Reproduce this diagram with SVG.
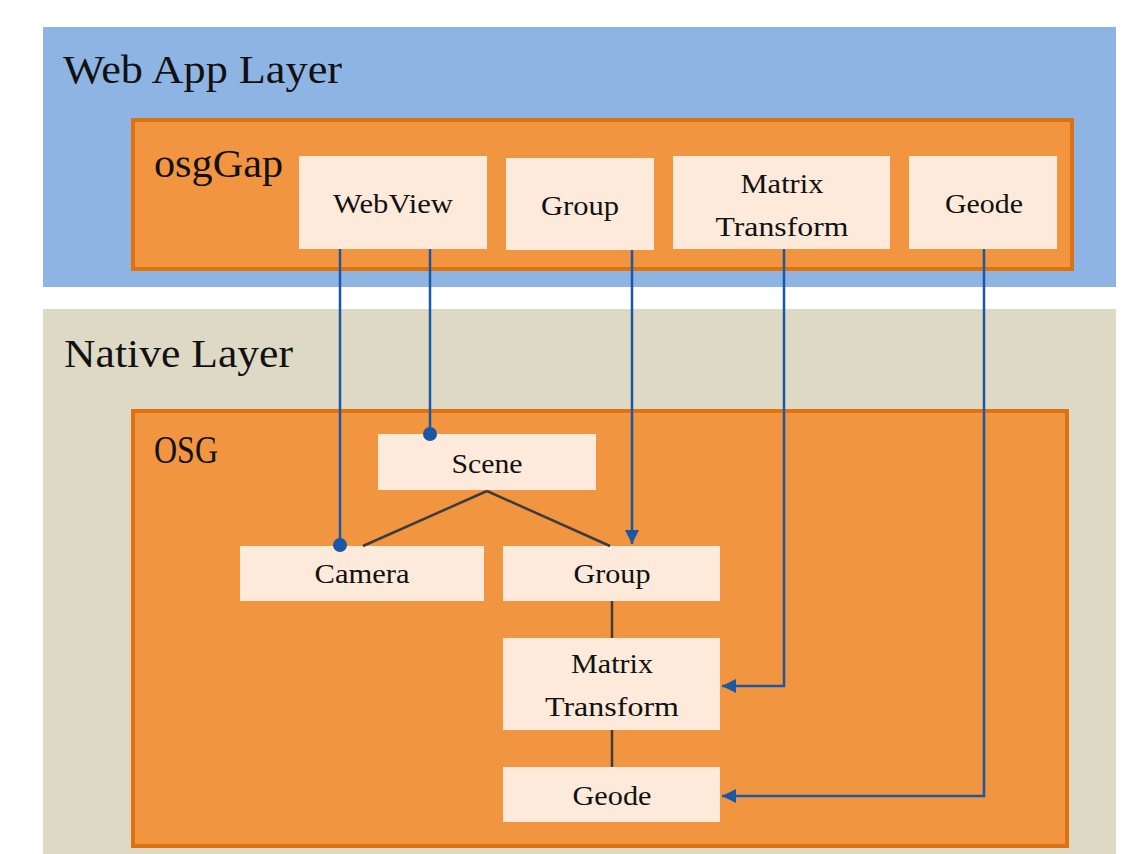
<svg xmlns="http://www.w3.org/2000/svg" width="1132" height="854" viewBox="0 0 1132 854">
<style>
.layer-title{font-family:"Liberation Serif","Times New Roman",serif;font-size:40px;fill:#111}
.frame{fill:#F29540;stroke:#DE7110;stroke-width:4}
.node rect{fill:#FDEADA}
.node text,.lbl{font-family:"Liberation Serif","Times New Roman",serif;font-size:28px;fill:#111;text-anchor:middle}
.blue{fill:none;stroke:#1A58A6;stroke-width:2.5}
.gray{fill:none;stroke:#3C3C3C;stroke-width:2.5}
</style>
<defs>
<marker id="arr" markerUnits="userSpaceOnUse" markerWidth="16" markerHeight="14" refX="14" refY="7" orient="auto">
<path d="M0,0 L14,7 L0,14 Z" fill="#1A58A6"/>
</marker>
</defs>

<g id="web-app-layer">
<rect x="43" y="27" width="1073" height="260" fill="#8EB4E3"/>
<text class="layer-title" x="63" y="83" textLength="279" lengthAdjust="spacingAndGlyphs">Web App Layer</text>
</g>
<g id="native-layer">
<rect x="43" y="309" width="1073" height="545" fill="#DDD9C4"/>
<text class="layer-title" x="64" y="367" textLength="229" lengthAdjust="spacingAndGlyphs">Native Layer</text>
</g>

<g id="osggap">
<rect class="frame" x="133" y="120" width="939" height="149"/>
<text class="layer-title" x="154" y="177" textLength="129" lengthAdjust="spacingAndGlyphs">osgGap</text>
</g>
<g id="osg">
<rect class="frame" x="133" y="411" width="934" height="435"/>
<text class="layer-title" x="154" y="463" textLength="64" lengthAdjust="spacingAndGlyphs">OSG</text>
</g>

<g id="webview" class="node"><rect x="299" y="156" width="188" height="93"/><text x="393" y="213" textLength="120" lengthAdjust="spacingAndGlyphs">WebView</text></g>
<g id="group-web" class="node"><rect x="506" y="158" width="148" height="92"/><text x="580" y="215" textLength="78" lengthAdjust="spacingAndGlyphs">Group</text></g>
<g id="matrix-web" class="node"><rect x="673" y="156" width="217" height="93"/><text x="782" y="193" textLength="83" lengthAdjust="spacingAndGlyphs">Matrix</text><text x="782" y="236" textLength="133" lengthAdjust="spacingAndGlyphs">Transform</text></g>
<g id="geode-web" class="node"><rect x="909" y="156" width="148" height="93"/><text x="984" y="213" textLength="78" lengthAdjust="spacingAndGlyphs">Geode</text></g>

<g id="scene" class="node"><rect x="378" y="434" width="218" height="56"/><text x="487" y="473" textLength="71" lengthAdjust="spacingAndGlyphs">Scene</text></g>
<g id="camera" class="node"><rect x="240" y="546" width="244" height="55"/><text x="362" y="583" textLength="95" lengthAdjust="spacingAndGlyphs">Camera</text></g>
<g id="group-osg" class="node"><rect x="503" y="546" width="217" height="55"/><text x="612" y="583" textLength="77" lengthAdjust="spacingAndGlyphs">Group</text></g>
<g id="matrix-osg" class="node"><rect x="503" y="638" width="217" height="92"/><text x="612" y="673" textLength="82" lengthAdjust="spacingAndGlyphs">Matrix</text><text x="612" y="716" textLength="134" lengthAdjust="spacingAndGlyphs">Transform</text></g>
<g id="geode-osg" class="node"><rect x="503" y="767" width="217" height="55"/><text x="612" y="805" textLength="79" lengthAdjust="spacingAndGlyphs">Geode</text></g>

<g id="connectors">
<path class="gray" d="M487,491 L363,546"/>
<path class="gray" d="M487,491 L610,546"/>
<path class="gray" d="M612,601 L612,638"/>
<path class="gray" d="M612,730 L612,767"/>
<path class="blue" d="M340,249 L340,545"/>
<circle cx="340" cy="545" r="7" fill="#1A58A6"/>
<path class="blue" d="M430,249 L430,434"/>
<circle cx="430" cy="434" r="7" fill="#1A58A6"/>
<path class="blue" d="M632,250 L632,544" marker-end="url(#arr)"/>
<path class="blue" d="M784,249 L784,686 L722,686" marker-end="url(#arr)"/>
<path class="blue" d="M984,249 L984,796 L722,796" marker-end="url(#arr)"/>
</g>
</svg>
